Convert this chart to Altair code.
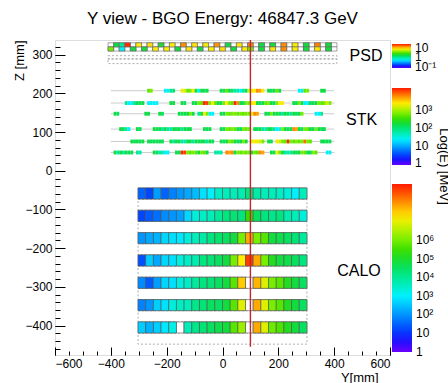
import altair as alt
import numpy as np
import pandas as pd

FONT = "Liberation Sans"

title_text = "Y view - BGO Energy: 46847.3 GeV"

# Rainbow palette shared by the three colour bars (violet -> red)
palette = ["#6a00ff", "#1a10ff", "#0044ff", "#0080ff", "#00bbff", "#00f0ff",
           "#00eebb", "#00e680", "#10dd40", "#33dd00", "#77ee00", "#bbf000",
           "#ffee00", "#ffaa00", "#ff6000", "#ff1a00"]

# Axis labels and tick marks (mm)
x_label_values = [-600, -400, -200, 0, 200, 400, 600]
x_major_ticks = [-600, -400, -200, 0, 200, 400, 600]
x_minor_ticks = list(range(-600, 601, 50))
z_label_values = [-400, -300, -200, -100, 0, 100, 200, 300]
z_major_ticks = [-400, -300, -200, -100, 0, 100, 200, 300]
z_minor_ticks = list(range(-460, 331, 20))

# ---------------- PSD: two staggered rows of 41 bars (log10 E/MeV, None = no hit)
psd_row_z = [325.5, 314.8]
psd_top = [None, 0.2, -0.05, 1.33, None, 0.87, None, 0.9, None, 0.25, None, 0.85,
           None, 1.1, None, 0.88, None, 0.84, None, 1.08, None, 0.2, None, 0.88,
           None, 1.12, None, 0.18, None, 0.22, None, 1.1, None, 0.86, None, 0.2,
           None, 1.12, None, 0.22, None]
psd_bottom = [0.53, None, -0.3, None, 0.2, None, 0.22, None, 0.87, None, 0.85,
              None, 0.2, None, 0.88, None, 0.2, None, 0.86, None, 0.9, None, 0.2,
              None, 0.86, 0.55, None, 0.2, None, 0.88, None, 1.1, None, 0.85, None,
              0.2, None, 0.87, None, 0.2, None]
# X-view PSD bars (outlined only)
psd_xview_z0 = [289.0, 277.0]
psd_xview_z1 = [297.5, 289.0]

# ---------------- STK: six Y-view planes, runs of hit strips (first strip, log10 E)
stk_row_z = [206.9, 175.1, 147.4, 107.8, 75.8, 47.3]
stk_hits = [
    [(13, [2.7, 2.8]), (19, [1.35, 1.4, 1.8, 2.0]),
     (25, [3.3, 3.2, 2.7, 2.8, 3.3, 2.3, 1.4, 2.2, 2.1, 2.2]),
     (39, [2.2, 2.1, 2.7, 2.2, 2.0, 1.8, 1.7, 1.4, 1.8, 2.1]),
     (49, [3.2, 3.3, 3.4, 3.8, 3.7, 3.3]),
     (56, [2.2, 2.1, 2.2, 2.7, 2.2]), (67, [1.35, 1.4, 2.7, 2.8]), (75, [2.2, 2.2])],
    [(5, [1.8, 1.35, 1.4, 1.8, 2.2, 2.1, 2.2]), (13, [1.35, 1.4, 1.35, 1.4]),
     (21, [2.2, 2.2]), (25, [2.2, 2.1]),
     (29, [2.2, 2.1, 2.8, 2.7, 4.2, 4.1, 2.8, 3.3, 2.7, 2.2, 2.1, 2.8, 3.4, 2.8,
           2.7, 4.2, 3.8, 2.2, 2.1, 2.8]),
     (49, [2.8, 3.3, 3.4, 2.2, 2.1, 2.2, 2.7, 2.8, 2.2, 2.1, 2.8, 3.3, 3.4]),
     (65, [2.2, 2.1, 2.8, 2.2, 1.35, 1.4, 2.2, 2.1, 2.2, 2.8, 2.7, 2.8, 3.2, 2.8])],
    [(1, [2.2, 2.1]), (12, [2.2, 2.2]), (17, [2.2, 2.1]),
     (24, [2.2, 2.1, 2.2, 2.2, 2.8, 2.2]), (31, [1.8, 2.2, 3.3, 2.8, 1.4, 1.35]),
     (39, [2.2, 2.1, 2.8, 2.7, 2.8, 2.8, 2.7, 2.8, 2.7, 2.8, 2.8, 3.3, 3.8, 3.7]),
     (55, [2.2, 2.1, 2.8, 2.2, 2.2, 2.1, 1.8, 2.2, 2.1, 1.8, 2.2, 2.1, 2.2, 2.8]),
     (73, [1.35, 1.4, 1.8])],
    [(3, [2.2, 2.1, 1.8, 1.35]), (9, [2.2, 2.1]),
     (15, [2.2, 2.1, 2.2, 1.8, 2.2, 1.8, 1.7, 2.2, 2.1, 2.2, 1.8, 2.2, 2.1, 2.2]),
     (33, [2.2, 2.1, 2.2]),
     (39, [2.2, 2.1, 2.8, 2.7, 2.8, 2.7, 2.2, 2.1, 2.8, 2.7, 2.8]),
     (51, [2.2, 2.1, 2.2, 1.8, 1.7, 2.2, 2.1, 1.8, 1.35, 1.4, 2.8, 2.2, 2.1, 2.2,
           3.8, 3.7, 2.2, 2.1, 2.8, 2.7, 2.2, 2.1, 2.8, 2.2, 2.1, 2.2])],
    [(7, [2.2, 2.1, 2.2, 2.1, 2.2]), (13, [2.2, 2.1, 2.2, 2.1, 2.2, 2.1]),
     (21, [2.2, 1.8, 2.2, 2.1, 1.8, 1.7, 2.2, 2.1, 1.8, 2.2, 2.1, 2.2, 2.1, 1.8,
           2.2, 2.1]),
     (39, [2.2, 2.1, 2.2, 2.8, 2.7, 2.2, 2.1, 2.2, 2.8, 2.2]),
     (50, [3.3, 3.4, 3.3, 3.2, 2.8]), (56, [2.2, 2.1]),
     (59, [3.3, 3.2, 2.8, 2.7, 4.2, 2.8, 2.7, 2.8, 2.7, 2.8, 3.9, 2.8, 2.7]),
     (75, [2.2, 2.1, 2.2, 2.1])],
    [(1, [2.2, 1.8, 2.2, 1.8, 2.2, 2.1, 2.2]), (9, [1.8, 1.7]),
     (15, [2.2, 2.1, 1.8, 1.7, 1.35, 1.4]),
     (23, [2.2, 2.1, 4.2, 4.1, 2.8, 2.7, 2.8, 2.7, 2.2, 2.8, 2.7, 2.2]),
     (37, [1.8, 1.7, 1.8]),
     (41, [3.8, 3.7, 3.8, 2.2, 2.8, 2.7, 2.8, 2.7, 2.8, 2.2, 2.8, 2.7, 3.8, 3.7]),
     (57, [2.2, 2.1, 3.3, 2.8, 2.2, 1.8, 1.7, 1.8, 2.2, 2.1, 2.2, 2.8, 2.7, 2.2,
           2.1, 2.8, 2.7]),
     (77, [1.35, 1.4])],
]

# ---------------- CALO: seven Y-view BGO layers of 22 bars (log10 E/MeV, None = empty)
calo_layer_z = [-58.6, -116.3, -174.0, -231.7, -289.4, -347.1, -404.8]
calo_E = [
    [1.5, 1.2, 2.1, 1.5, 1.8, 2.0, 2.2, 2.4, 2.8, 3.0, 3.5, 3.6, 3.6, 3.7, 4.2,
     3.8, 3.6, 3.6, 3.5, 3.3, 3.0, 3.6],
    [1.2, 1.4, 1.6, 1.9, 2.0, 2.1, 2.7, 3.3, 3.5, 3.6, 3.9, 4.2, 4.3, 4.2, 5.4,
     4.5, 4.2, 4.1, 4.2, 3.7, 3.6, 3.3],
    [2.0, 2.2, 2.3, 2.7, 2.8, 2.9, 3.3, 3.6, 3.8, 4.2, 4.4, 4.5, 4.8, 6.0, 7.8,
     6.0, 5.7, 4.8, 4.7, 4.5, 4.3, 3.9],
    [1.3, 2.6, 2.2, 2.7, 2.8, 3.3, 3.5, 3.7, 4.2, 4.3, 4.5, 4.8, 6.0, 7.2, 8.7,
     7.8, 6.0, 5.1, 4.8, 4.7, 4.5, 4.2],
    [1.9, 1.4, 2.1, 2.7, 2.8, 3.3, 3.5, 3.9, 4.2, 4.3, 4.5, 4.8, 5.7, 7.5, None,
     7.7, 6.9, 6.0, 5.7, 5.1, 4.8, 4.5],
    [1.8, 2.0, 2.6, 2.8, 3.3, 3.5, 3.6, 4.1, 4.3, 4.5, 4.5, 4.8, 5.7, 6.9, None,
     7.8, 6.9, 6.0, 5.7, 5.1, 4.8, 4.5],
    [2.6, 2.3, 2.6, 2.9, 3.2, None, 3.6, 4.1, 4.3, 4.5, 4.7, 4.8, 5.7, 6.3, None,
     7.8, 6.9, 5.9, 5.6, 5.1, 4.8, 4.5],
]

# Reconstructed shower axis (Y, Z in mm)
track_y = [100, 100]
track_z = [338, -455]

# Sub-detector names and where they are written (mm)
det_names = ["PSD", "STK", "CALO"]
det_label_y = [514, 498, 489]
det_label_z = [297, 132, -259]

# ---------------- geometry of the read-out elements (mm)
PSD_X0, PSD_PITCH, PSD_HALF_H = -410.0, 20.0, 5.35
STK_X0, STK_PITCH, STK_HALF_H, STK_HALF_W = -400.0, 10.0, 5.0, 400.0
CALO_X0, CALO_PITCH, CALO_HALF_H = -302.5, 27.5, 14.3
CALO_LAYER_GAP = 28.85


def grid_cells(rows_z, rows_vals, x0, pitch, half_h):
    recs = []
    for zc, vals in zip(rows_z, rows_vals):
        for i, v in enumerate(vals):
            left = x0 + pitch * i
            recs.append(dict(x0=left, x1=left + pitch, z0=zc - half_h,
                             z1=zc + half_h, logE=v))
    return pd.DataFrame(recs)


psd_df = grid_cells(psd_row_z, [psd_top, psd_bottom], PSD_X0, PSD_PITCH, PSD_HALF_H)
psd_hits = psd_df.dropna(subset=["logE"])
psd_xview = pd.DataFrame(dict(x0=PSD_X0, x1=-PSD_X0, z0=psd_xview_z0, z1=psd_xview_z1))

stk_recs = []
for zc, runs in zip(stk_row_z, stk_hits):
    for first, vals in runs:
        for k, v in enumerate(vals):
            left = STK_X0 + STK_PITCH * (first + k)
            stk_recs.append(dict(x0=left, x1=left + STK_PITCH, z0=zc - STK_HALF_H,
                                 z1=zc + STK_HALF_H, logE=v))
stk_df = pd.DataFrame(stk_recs)
stk_planes = pd.DataFrame(dict(x0=-STK_HALF_W, x1=STK_HALF_W, z=stk_row_z))

calo_df = grid_cells(calo_layer_z, calo_E, CALO_X0, CALO_PITCH, CALO_HALF_H)
calo_hits = calo_df.dropna(subset=["logE"])
calo_xview_z = [z - CALO_LAYER_GAP for z in calo_layer_z]
calo_xview = pd.DataFrame(dict(x0=CALO_X0, x1=-CALO_X0,
                               z0=[z - CALO_HALF_H for z in calo_xview_z],
                               z1=[z + CALO_HALF_H for z in calo_xview_z]))

track_df = pd.DataFrame(dict(y=[track_y[0]], z_top=[track_z[0]], z_bot=[track_z[1]]))
labels_df = pd.DataFrame(dict(name=det_names, y=det_label_y, z=det_label_z))

# ---------------- scales and axes
W, H = 335, 315
x_scale = alt.Scale(domain=[-600, 600], nice=False, zero=False)
z_scale = alt.Scale(domain=[-476, 338], nice=False, zero=False)


def xq(field, axis=None):
    return alt.X(field, type="quantitative", scale=x_scale, axis=axis)


def zq(field, axis=None):
    return alt.Y(field, type="quantitative", scale=z_scale, axis=axis)


lab = dict(labelFont=FONT, labelFontSize=12, labelColor="black", grid=False,
           domain=False, ticks=False, tickSize=0)
ttl = dict(titleFont=FONT, titleFontSize=13, titleFontWeight="normal", titleColor="black")
x_label_axis = alt.Axis(values=x_label_values, orient="bottom", labelPadding=3, format="d",
                        title="Y[mm]", titleX=323, titleY=26, titleAlign="right",
                        titleBaseline="alphabetic", **lab, **ttl)
z_label_axis = alt.Axis(values=z_label_values, orient="left", labelPadding=3, format="d",
                        title="Z [mm]", titleX=-36, titleY=0, titleAngle=270,
                        titleAlign="right", titleBaseline="middle", **lab, **ttl)

tk = dict(labels=False, domain=False, grid=False, ticks=True, tickColor="black", tickWidth=1)
x_major_axis = alt.Axis(orient="top", offset=-H, values=x_major_ticks, tickSize=8,
                        title=None, **tk)
x_minor_axis = alt.Axis(orient="top", offset=-H, values=x_minor_ticks, tickSize=4,
                        title=None, **tk)
z_major_axis = alt.Axis(orient="right", offset=-W, values=z_major_ticks, tickSize=10,
                        title="Log(E) [MeV]", titleX=384, titleY=126, titleAngle=90,
                        titleAlign="center", titleBaseline="alphabetic", **tk, **ttl)
z_minor_axis = alt.Axis(orient="right", offset=-W, values=z_minor_ticks, tickSize=5,
                        title=None, **tk)

# ---------------- colour bars
sup_expr = ("datum.value == 0 ? '1' : datum.value == 1 ? '10' : "
            "'10' + substring('\u2070\u00b9\u00b2\u00b3\u2074\u2075\u2076\u2077\u2078\u2079', "
            "datum.value, datum.value + 1)")
psd_expr = "datum.value == 0 ? '1' : datum.value == 1 ? '10' : '10\u207b\u00b9'"
leg = dict(orient="none", direction="vertical", title=None, labelFont=FONT,
           labelFontSize=12, labelColor="black", labelOffset=4, labelOverlap=False,
           gradientStrokeWidth=0, padding=0)


def color_enc(lo, hi, legend):
    stops = np.linspace(lo, hi, len(palette)).tolist()
    return alt.Color("logE:Q", scale=alt.Scale(domain=stops, range=palette,
                                               interpolate="rgb"), legend=legend)


psd_color = color_enc(-1.15, 1.37, alt.Legend(
    legendX=337, legendY=4, gradientLength=24, gradientThickness=19,
    values=[-1, 0, 1], labelExpr=psd_expr, **leg))
stk_color = color_enc(-0.1, 4.25, alt.Legend(
    legendX=337, legendY=48, gradientLength=77, gradientThickness=19,
    values=[0, 1, 2, 3], labelExpr=sup_expr, **leg))
calo_color = color_enc(-0.02, 9.0, alt.Legend(
    legendX=337, legendY=144, gradientLength=168, gradientThickness=20,
    values=[0, 1, 2, 3, 4, 5, 6], labelExpr=sup_expr, **leg))

# ---------------- layers
dash = dict(fillOpacity=0, stroke="#999999", strokeWidth=0.8, strokeDash=[2, 2])

calo_frame = alt.Chart(calo_xview).mark_rect(**dash).encode(
    x=xq("x0", x_label_axis), x2="x1", y=zq("z0", z_label_axis), y2="z1")
psd_frame = alt.Chart(psd_xview).mark_rect(**dash).encode(
    x=xq("x0", x_minor_axis), x2="x1", y=zq("z0", z_minor_axis), y2="z1")
stk_lines = alt.Chart(stk_planes).mark_rule(color="#cccccc", strokeWidth=1).encode(
    x=xq("x0", x_major_axis), x2="x1", y=zq("z", z_major_axis))

stk_cells = alt.Chart(stk_df).mark_rect(strokeWidth=0).encode(
    x=xq("x0"), x2="x1", y=zq("z0"), y2="z1", color=stk_color)

psd_empty = alt.Chart(psd_df).mark_rect(fill="white", stroke="#666666", strokeWidth=0.6).encode(
    x=xq("x0"), x2="x1", y=zq("z0"), y2="z1")
psd_cells = alt.Chart(psd_hits).mark_rect(stroke="#666666", strokeWidth=0.6).encode(
    x=xq("x0"), x2="x1", y=zq("z0"), y2="z1", color=psd_color)

calo_empty = alt.Chart(calo_df).mark_rect(fill="white", stroke="#555555", strokeWidth=0.6).encode(
    x=xq("x0"), x2="x1", y=zq("z0"), y2="z1")
calo_cells = alt.Chart(calo_hits).mark_rect(stroke="#555555", strokeWidth=0.6).encode(
    x=xq("x0"), x2="x1", y=zq("z0"), y2="z1", color=calo_color)

track = alt.Chart(track_df).mark_rule(color="#c0272d", strokeWidth=1.4).encode(
    x=xq("y"), y=zq("z_top"), y2="z_bot")

names = alt.Chart(labels_df).mark_text(font=FONT, fontSize=16, color="black",
                                       align="center", baseline="middle").encode(
    x=xq("y"), y=zq("z"), text="name:N")

chart = alt.layer(
    calo_frame, psd_frame, stk_lines, stk_cells, psd_empty, psd_cells,
    calo_empty, calo_cells, track, names,
).properties(
    width=W, height=H,
    title=alt.TitleParams(text=title_text, font=FONT, fontSize=17, fontWeight="normal",
                          color="black", anchor="middle", frame="group", offset=-2,
                          baseline="alphabetic"),
    autosize=alt.AutoSizeParams(type="none"),
    padding={"left": 55, "top": 40, "right": 58, "bottom": 28},
).resolve_scale(color="independent").resolve_axis(
    x="independent", y="independent"
).configure_view(stroke="#222222", strokeWidth=1).configure(font=FONT)

chart.save("out.html", embed_options={"renderer": "svg", "actions": False})
